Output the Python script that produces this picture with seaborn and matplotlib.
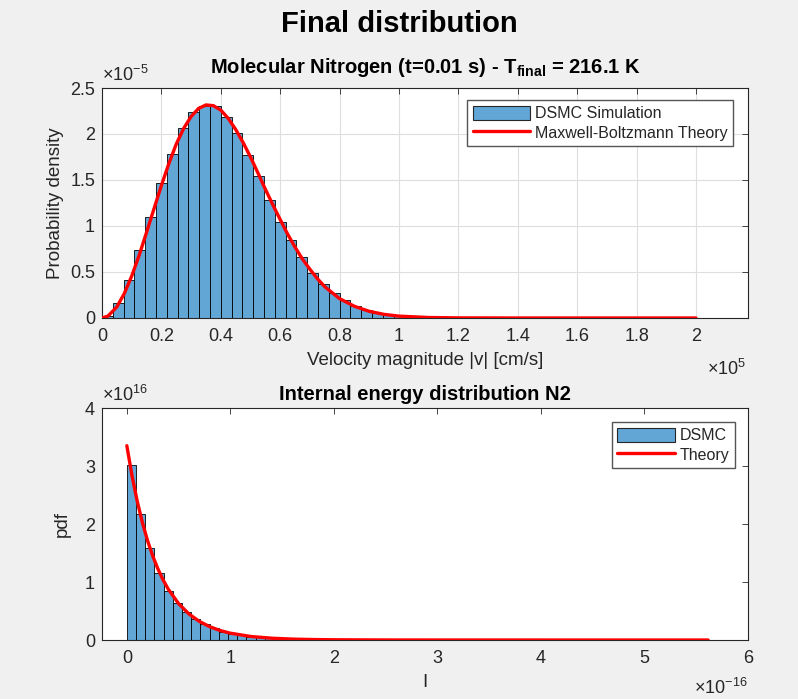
import numpy as np
import pandas as pd
import seaborn as sns
import matplotlib.pyplot as plt
from matplotlib.patches import Patch
from matplotlib.lines import Line2D

# speed histogram (x in 1e5 cm/s, density in 1e-5)
speedHeights = [0.02, 0.16, 0.41, 0.74, 1.10, 1.47, 1.78, 2.06, 2.24, 2.30,
                2.30, 2.18, 2.01, 1.77, 1.54, 1.28, 1.04, 0.85, 0.66, 0.49,
                0.37, 0.275, 0.20, 0.13, 0.087, 0.058, 0.04, 0.025, 0.016, 0.010,
                0.006, 0.004, 0.002, 0.0015, 0.001, 0.0005, 0.0, 0.0, 0.0, 0.0,
                0.0, 0.0, 0.0, 0.0, 0.0, 0.0, 0.0, 0.0, 0.0, 0.0,
                0.0, 0.0, 0.0, 0.0, 0.0]
speedMax = 2.0

# Maxwell-Boltzmann curve
mbX = [0, 0.02, 0.05, 0.075, 0.1, 0.125, 0.15, 0.175, 0.2, 0.225, 0.25, 0.275,
       0.3, 0.325, 0.35, 0.375, 0.4, 0.425, 0.45, 0.475, 0.5, 0.525, 0.55,
       0.575, 0.6, 0.625, 0.65, 0.675, 0.7, 0.725, 0.75, 0.8, 0.85, 0.9,
       0.95, 1.0, 1.1, 1.2, 1.4, 2.0]
mbY = [0, 0.02, 0.12, 0.265, 0.455, 0.68, 0.93, 1.186, 1.44, 1.677, 1.89, 2.06,
       2.19, 2.277, 2.316, 2.308, 2.26, 2.17, 2.05, 1.908, 1.75, 1.577, 1.40,
       1.232, 1.07, 0.912, 0.77, 0.64, 0.53, 0.428, 0.34, 0.21, 0.127, 0.072,
       0.039, 0.020, 0.005, 0.001, 0.0, 0.0]

# internal energy histogram (x in 1e-16, pdf in 1e16)
energyHeights = [3.02, 2.17, 1.59, 1.16, 0.85, 0.64, 0.48, 0.36, 0.27, 0.20,
                 0.14, 0.10, 0.08, 0.06, 0.045, 0.033, 0.024, 0.018, 0.013, 0.010,
                 0.007, 0.005, 0.004, 0.003, 0.002, 0.0015, 0.001, 0.001, 0.0005] + [0.0] * 34
energyMax = 5.6

thX = [0, 0.05, 0.1, 0.15, 0.2, 0.25, 0.3, 0.35, 0.4, 0.5, 0.6, 0.7, 0.8, 0.9,
       1.0, 1.2, 1.4, 1.6, 1.8, 2.0, 2.5, 3.0, 4.0, 5.615]
thY = [3.35, 2.833, 2.396, 2.027, 1.714, 1.450, 1.226, 1.037, 0.877, 0.627,
       0.449, 0.321, 0.230, 0.164, 0.1175, 0.060, 0.031, 0.0157, 0.008, 0.0041,
       0.0008, 0.0001, 0.0, 0.0]

sns.set_style("white")
plt.rcParams['font.family'] = ['Liberation Sans', 'DejaVu Sans']
plt.rcParams['mathtext.fontset'] = 'custom'
plt.rcParams['mathtext.rm'] = 'Liberation Sans'
plt.rcParams['mathtext.bf'] = 'Liberation Sans:bold'

barColor = '#62a6d6'
txtColor = '#262626'

fig = plt.figure(figsize=(7.98, 6.99), dpi=100, facecolor='#f0f0f0')
ax1 = fig.add_axes([0.1278, 0.5451, 0.8095, 0.3290])
ax2 = fig.add_axes([0.1278, 0.0844, 0.8095, 0.3319])


def histBars(ax, heights, hmax):
  n = len(heights)
  width = hmax / n
  centers = [(i + 0.5) * width for i in range(n)]
  df = pd.DataFrame({'x': centers, 'w': heights})
  sns.histplot(data=df, x='x', weights='w', binwidth=width, binrange=(0, hmax),
               ax=ax, color=barColor, alpha=1, edgecolor='black', linewidth=0.6,
               zorder=2)


def styleAx(ax, grid):
  ax.set_facecolor('white')
  for s in ax.spines.values():
    s.set_color(txtColor)
    s.set_linewidth(0.8)
    s.set_visible(True)
  ax.tick_params(direction='in', length=4, width=0.6, colors=txtColor,
                 labelsize=13, top=True, right=True)
  ax.tick_params(axis='x', pad=7)
  ax.tick_params(axis='y', pad=5)
  if grid:
    ax.grid(True, color='#dedede', linewidth=0.8)
    ax.set_axisbelow(True)


def addLegend(ax, labels, anchor):
  ax.legend(handles=[Patch(facecolor=barColor, edgecolor=txtColor, linewidth=0.8),
                     Line2D([0], [0], color='red', linewidth=2.4)],
            labels=labels, loc='upper right', bbox_to_anchor=anchor,
            borderaxespad=0, fontsize=11.5, fancybox=False, framealpha=1,
            edgecolor='#555555', handlelength=3.6, handleheight=1.0,
            labelspacing=0.25, handletextpad=0.3, borderpad=0.35)


histBars(ax1, speedHeights, speedMax)
sns.lineplot(x=mbX, y=mbY, ax=ax1, color='red', linewidth=2.4, zorder=3)
ax1.set_xlim(0, 2.175)
ax1.set_ylim(0, 2.5)
ax1.set_xticks(np.arange(0, 2.01, 0.2))
ax1.set_xticklabels(['0', '0.2', '0.4', '0.6', '0.8', '1', '1.2', '1.4', '1.6', '1.8', '2'])
ax1.set_yticks(np.arange(0, 2.51, 0.5))
ax1.set_yticklabels(['0', '0.5', '1', '1.5', '2', '2.5'])
styleAx(ax1, True)
ax1.set_xlabel('Velocity magnitude |v| [cm/s]', fontsize=13.5, color=txtColor, labelpad=5)
ax1.set_ylabel('Probability density', fontsize=13.5, color=txtColor, labelpad=4)
ax1.set_title(r'Molecular Nitrogen (t=0.01 s) - T$_{\mathbf{final}}$ = 216.1 K',
              fontsize=14.5, fontweight='bold', color='black', pad=11)
ax1.text(0.0, 1.012, r'$\times10^{-5}$', transform=ax1.transAxes, fontsize=13,
         color=txtColor, ha='left', va='bottom')
ax1.text(0.997, -0.22, r'$\times10^{5}$', transform=ax1.transAxes, fontsize=13,
         color=txtColor, ha='right', va='center')
addLegend(ax1, ['DSMC Simulation', 'Maxwell-Boltzmann Theory'], (0.977, 0.948))

histBars(ax2, energyHeights, energyMax)
sns.lineplot(x=thX, y=thY, ax=ax2, color='red', linewidth=2.4, zorder=3)
ax2.set_xlim(-0.24, 6.0)
ax2.set_ylim(0, 4)
ax2.set_xticks(range(0, 7))
ax2.set_yticks(range(0, 5))
styleAx(ax2, False)
ax2.set_xlabel('I', fontsize=13.5, color=txtColor, labelpad=5)
ax2.set_ylabel('pdf', fontsize=13.5, color=txtColor, labelpad=10)
ax2.set_title('Internal energy distribution N2', fontsize=14.5, fontweight='bold',
              color='black', pad=6)
ax2.text(0.0, 1.012, r'$\times10^{16}$', transform=ax2.transAxes, fontsize=13,
         color=txtColor, ha='left', va='bottom')
ax2.text(1.0, -0.205, r'$\times10^{-16}$', transform=ax2.transAxes, fontsize=13,
         color=txtColor, ha='right', va='center')
addLegend(ax2, ['DSMC', 'Theory'], (0.98, 0.94))

fig.suptitle('Final distribution', fontsize=21, fontweight='bold', color='black',
             y=0.985)

plt.savefig('out.png', dpi=100, facecolor=fig.get_facecolor())
